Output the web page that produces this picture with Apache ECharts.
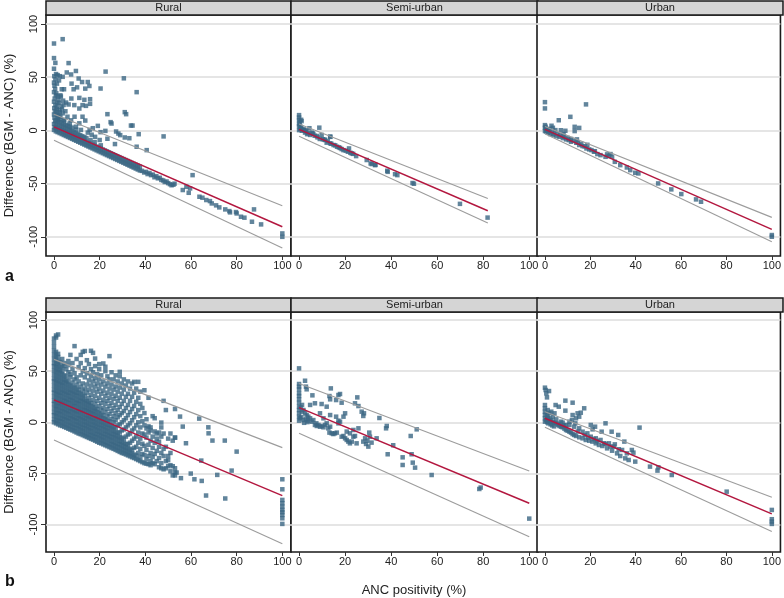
<!DOCTYPE html>
<html><head><meta charset="utf-8">
<script src="https://cdn.jsdelivr.net/npm/echarts@6/dist/echarts.min.js"></script>
<style>html,body{margin:0;padding:0;background:#fff}#c{width:784px;height:598px}</style>
</head><body><div id="c"></div><script>
const panelTitles = ['Rural', 'Semi-urban', 'Urban'];
const xTicks = [0, 20, 40, 60, 80, 100];
const yTicks = [-100, -50, 0, 50, 100];
const yTitle = 'Difference (BGM - ANC) (%)';
const xTitle = 'ANC positivity (%)';

// ---------- fitted lines (fit, upper and lower prediction limits) ----------
const fitRuralA = [[0, 3.4], [100, -90.5]];
const upRuralA = [[0, 15.3], [100, -70.8]];
const loRuralA = [[0, -9.1], [100, -110.5]];
const fitSemiA = [[0, 1], [82, -75.5]];
const upSemiA = [[0, 6], [82, -64]];
const loSemiA = [[0, -5.4], [82, -87]];
const fitUrbanA = [[0, 1], [100, -93]];
const upUrbanA = [[0, 3.8], [100, -81.7]];
const loUrbanA = [[0, -3], [100, -104.6]];
const fitRuralB = [[0, 21.9], [100, -71.8]];
const upRuralB = [[0, 61.6], [100, -24.8]];
const loRuralB = [[0, -17.3], [100, -119]];
const fitSemiB = [[0, 14.4], [100, -79.3]];
const upSemiB = [[0, 38], [100, -47.6]];
const loSemiB = [[0, -10.8], [100, -112]];
const fitUrbanB = [[0, 3.9], [100, -89.7]];
const upUrbanB = [[0, 10.4], [100, -73.4]];
const loUrbanB = [[0, -4.9], [100, -107]];

// ---------- points ----------
const ruralA = [
[0,0.5],[0.3,3],[0,6],[0.5,9],[0.2,12],[0,15],[0.4,18],[0.1,21],[0.6,24],[0,27],[0.3,30],[0.8,33],[0,36],[0.5,39],[0.2,42],[0,45],[0.6,48],[0.1,51],[0.9,53],[0,58],[0.6,63.5],[0,68],[0,81.7],
[1.2,22],[1.5,26],[2,29],[1.8,10],[2.8,13],[3.5,20],[4.2,24],[1,35],[1.3,44],[2.2,47],[1.6,15],[2.4,19],[3.2,22.5],[5,18],[4,28],[2.8,33],
[3.8,85.8],[6.4,63.3],[9.6,55.9],[22.6,55.3],[30.6,49],[3.8,50.4],[5.6,54.5],[7.5,52.6],[1.6,52],[2.5,51],[10.8,48.8],[7.7,44],[12.3,45.5],[14.8,45.5],[15.5,41.8],[13.7,39.3],[10.1,40.5],[3.4,38.7],[4.4,38.7],[8.6,38.7],[20.4,39.4],[36.2,36],
[1.6,31.9],[3,31.9],[5.3,26.2],[7.6,30],[11.1,30.6],[13.3,28.8],[15.8,29.4],[15.8,25],[8.9,23.8],[6.4,24.4],[11.1,20.6],[12.5,23.8],[14,23.1],[2.2,26],[1.2,20],[2.5,17],
[23.4,15.3],[31,17.2],[31.6,15.3],[24.8,7.8],[25.2,6.5],[33.7,4.6],[34.4,4.6],[27.2,-1],[28.2,-2.9],[31,-6.6],[33,-7.3],[29,-4.4],[37.1,-3.5],[48,-5.6],[22.5,-0.4],[20.4,-1.6],[23.4,-7.8],
[9,12.9],[6.9,6.7],[9.6,3.5],[11.1,6.7],[11.8,0.5],[14.8,-2],[15.6,0.5],[17,2.1],[19.2,4.3],[13.7,9.3],[5.9,12.9],[3.8,16.1],[12.5,12.9],[36.2,-15.3],[40.6,-18.5],[26.7,-12.8],[18,-6],[16.5,-4],[20,-9],[2,14],[4.5,10],[7.5,9.5],[1,17],
[0.8,-0.8],[0.8,2.7],[0.8,6.2],[0.8,9.7],
[1.6,-1.6],[1.6,1.9],[1.6,5.4],[1.6,8.9],[1.6,12],
[2.5,-2.5],[2.5,1],[2.5,4.5],[2.5,8],[2.5,11],
[3.4,-3.4],[3.4,0.1],[3.4,3.6],[3.4,7.1],
[4.3,-4.3],[4.3,-0.8],[4.3,2.7],[4.3,6.2],[4.3,9.5],
[5.2,-5.2],[5.2,-1.7],[5.2,1.8],[5.2,5.3],
[6.1,-6.1],[6.1,-2.6],[6.1,0.9],[6.1,4.4],
[7,-7],[7,-3.5],[7,0],[7,3.5],
[7.9,-7.9],[7.9,-4.4],[7.9,-0.9],[7.9,2.6],
[8.8,-8.8],[8.8,-5.3],[8.8,-1.8],
[9.7,-9.7],[9.7,-6.2],[9.7,-2.7],[9.7,0.8],
[10.6,-10.6],[10.6,-7.1],[10.6,-3.6],
[11.5,-11.5],[11.5,-8],[11.5,-4.5],
[12.4,-12.4],[12.4,-8.9],[12.4,-5.4],
[13.3,-13.3],[13.3,-9.8],[13.3,-6.3],
[14.2,-14.2],[14.2,-10.7],[14.2,-7.2],
[15.1,-15.1],[15.1,-11.6],
[16,-16],[16,-12.5],[16,-9],
[16.9,-16.9],[16.9,-13.4],
[17.8,-17.8],[17.8,-14.3],[17.8,-11],
[18.7,-18.7],[18.7,-15.2],
[19.6,-19.6],[19.6,-16.1],
[20.5,-20.5],[20.5,-17],[20.5,-14],
[21.4,-21.4],[21.4,-17.9],
[22.3,-22.3],[22.3,-18.8],
[23.2,-23.2],[23.2,-19.7],
[24.1,-24.1],[24.1,-20.6],
[25,-25],[25,-21.5],
[25.9,-25.9],[25.9,-22.4],
[26.8,-26.8],[26.8,-23.3],
[27.7,-27.7],[27.7,-24.2],
[28.6,-28.6],[28.6,-25.1],
[29.5,-29.5],[29.5,-26],
[30.4,-30.4],[30.4,-26.9],
[31.3,-31.3],[31.3,-27.8],
[32.2,-32.2],[32.2,-28.7],
[33.1,-33.1],[33.1,-29.6],
[34,-34],[34,-30.5],
[34.9,-34.9],[34.9,-31.4],
[35.8,-35.8],[35.8,-32.3],
[36.7,-36.7],[36.7,-33.2],
[37.6,-37.6],[37.6,-34],
[38.5,-38],[39.5,-39.5],[40.3,-38.9],[41,-41],[41.8,-40],[42.5,-42],[43.3,-41.5],[44,-44],[44.8,-43],[45.5,-45],[46.3,-44.5],[47,-46.5],[47.8,-47],[48.5,-48.5],[49.3,-48],[50,-49.5],[50.8,-50.5],[51.5,-51.5],[52.3,-51],[52.8,-50],
[56.4,-56],[58,-53],[59,-58.6],[59.6,-54.5],[60.7,-42],[63.7,-62.3],[65,-63.2],[66.7,-65.4],[68.3,-66.4],[69.1,-68.6],[71,-70.4],[72.4,-72.3],[75,-74.2],[76.8,-75.8],[77.1,-77],[79.7,-76.7],[80,-78],[81.9,-81.1],[83.4,-82],[86.7,-85.8],[87.6,-74.2],[90.7,-88.3],[100,-96.8],[100,-100]
];

const semiA = [
[0,14.4],[0,12.2],[0,9.7],[0.3,7.9],[1.1,8.8],[0,6],[0.6,3.5],[0,0.3],[1.2,-0.3],[2,1],[2.6,-2],[4,-2.6],[4.5,2.1],[4.8,-4.2],[6.2,-3.3],[8.8,2.6],[7.7,-5.2],[9.8,-4.2],[10.3,-8.3],[11.3,-9],[12,-11.5],[13.5,-5.8],[13.5,-12.1],[15,-13.7],[16.5,-15.3],[17.3,-15.9],[19.3,-18.5],[21.2,-20],[21.7,-16.9],[22.9,-21.6],[24.8,-24.1],[29.4,-27.8],[31.1,-31],[31.6,-31.6],[33.2,-32.3],[38.3,-37.9],[38.5,-38.9],[41.7,-41.1],[42.7,-42],[49.3,-49.4],[49.9,-50.1],[69.9,-69],[81.9,-81.9],
[0,4],[0.5,1.5],[1,2.5],[1.5,0.5],[2.8,0],[3.2,-1],[5.5,-2],[3.5,-3.5],[6.8,-5],[8,-6.5],[9,-8],[12.5,-10],[14,-12.5],[15.7,-14],[17.8,-16.5],[18.5,-17.5],[20.3,-19],[23.5,-22],[0.9,10],[2.3,0.3],[5.9,-2.8],[11,-8.5],[13.6,-6],[22.3,-21],[33,-32.6]
];

const urbanA = [
[0,26.6],[0,20.7],[18.1,24.5],[6.1,9.6],[11.2,12.8],[13.1,3.4],[15.1,2.4],[13.1,-0.6],[9,-0.3],[2.9,4.4],[0,2.5],[0.6,0.3],[4.6,0.3],[1.3,-2.2],[2.3,-3.4],[3.5,-4.1],[5,-5.3],[6.4,-5.9],[7.9,-7.2],[9.3,-8.4],[10.5,-9.1],[11.5,-10.6],[13.8,-11.6],[14.1,-8.4],[15.1,-13.7],[16.6,-14.7],[18.7,-13.5],[18.3,-16.9],[19.5,-17.8],[21.6,-20],[23.1,-22.2],[24.5,-23.2],[26.7,-24.8],[27.4,-22.5],[28.2,-24.1],[28.9,-22.2],[29.6,-24.8],[30.8,-29.5],[33.2,-32.6],[36.1,-34.8],[37.6,-37.3],[39.8,-39.8],[41.2,-40.4],[49.9,-49.8],[55.7,-55.4],[60.1,-59.8],[66.6,-64.8],[68.8,-67],[100,-98.3],[100,-99.9],
[0,-0.5],[0.5,-1],[1.8,-0.5],[3,-1.5],[4,-3],[5.5,-3.5],[6.8,-4.5],[8.5,-6],[10,-7],[11.5,-8],[12.5,-9.5],[14.5,-11.5],[16,-12.5],[17.5,-15],[20.5,-18.5],[22,-19.5],[2,1.5],[3.5,2.5],[7,0.2],[8.2,-3.5],[0,5],[0.3,3.5],[1,1]
];

// Rural (b): dense cloud written column by column: [x, y1, y2, ...]
const ruralBCols = [
[0,0,3,7,10,14,18,21,25,29,32,36,40,43,47,51,55,58,62,66,70,74,78,82],
[0.9,-1,2,6,9,13,16,20,24,28,31,35,39,42,46,50,54,57,61,65,69,83,85],
[1.8,-2,1.5,5,9,12,16,19,23,27,30,34,38,41,45,49,52,56,60,64,67,86],
[2.7,-3,1,4,8,11,15,19,22,26,29,33,37,40,44,48,51,55,59],
[3.6,-3.6,0,3.5,7,11,14,18,21,25,29,32,36,39,43,47,50,54,62],
[4.5,-4.5,-1,3,6,10,13,17,21,24,28,31,35,39,42,46,55,58],
[5.4,-5.4,-2,2,5,9,12,16,20,23,27,30,34,38,41,45,52],
[6.3,-6.3,-3,1,4,8,11,15,19,22,26,29,33,37,40,49,56,60],
[7.2,-7.2,-3.5,0,4,7,11,14,18,22,25,29,32,36,44,47,66],
[8.1,-8,-4.5,-1,3,6,10,13,17,21,24,28,31,35,39,52,58],
[9,-9,-5.5,-2,2,5,9,12,16,19,23,27,30,34,42,48,74.6],
[9.9,-10,-6,-2.5,1,4,8,11,15,19,22,26,29,33,37,44,62],
[10.8,-11,-7,-3.5,0,4,7,11,14,18,21,25,29,32,40,54],
[11.7,-11.7,-8,-4.5,-1,3,6,10,13,17,21,24,28,35,46,58,66],
[12.6,-12.6,-9,-5.5,-2,2,5,9,12,16,20,23,27,31,38,50,69],
[13.5,-13.5,-10,-6,-2.5,1,4,8,12,15,19,22,26,33,44,53,69.8],
[14.4,-14.4,-11,-7,-3.5,0,4,7,11,14,18,21,29,37,48,60.8],
[15.3,-15.3,-12,-8,-4.5,-1,3,6,10,13,17,20,24,32,41,57],
[16.2,-16.2,-12.5,-9,-5.5,-2,2,5,9,12,16,19,27,36,45,52,70],
[17.1,-17,-13.5,-10,-6,-2.5,1,4,8,11,15,22,31,40,49,68],
[18,-18,-14.5,-11,-7,-3.5,0,4,7,11,14,18,26,35,43,55,62.4],
[18.9,-19,-15,-11.5,-8,-4.5,-1,3,6,10,13,21,30,38,47],
[19.8,-20,-16,-12.5,-9,-5.5,-2,2,5,9,16,24,33,42,52,57],
[20.7,-20.7,-17,-13.5,-10,-6,-2.5,1,4,8,12,19,28,37,46],
[21.6,-21.6,-18,-14.5,-11,-7,-3.5,0,4,7,14,22,31,40,57.6],
[22.5,-22.5,-19,-15,-11.5,-8,-4.5,-1,3,10,18,26,35,50,54.4],
[23.4,-23.4,-20,-16,-12.5,-9,-5.5,-2,2,6,13,21,29,38,45],
[24.3,-24.3,-21,-17,-13.5,-10,-6,-2.5,1,8,16,24,33,42,64.8],
[25.2,-25.2,-21.5,-18,-14.5,-11,-7,-3.5,3,11,19,28,37,49],
[26.1,-26,-22.5,-19,-15,-11.5,-8,-4.5,0,6,14,23,32,42],
[27,-27,-23.5,-20,-16,-12.5,-9,-5,2,9,17,26,35,46],
[27.9,-28,-24.5,-21,-17,-13.5,-10,-3,5,12,21,30,40],
[28.8,-29,-25,-21.5,-18,-14.5,-10,-2,7,15,24,34,45,49.4],
[29.7,-30,-26,-22.5,-19,-15,-8,0,9,18,28,38],
[30.6,-30.6,-27,-23.5,-20,-16,-7,2,11,21,32,42],
[31.5,-31.5,-28,-24.5,-21,-14,-5,4,14,25,36],
[32.4,-32.4,-29,-25,-21.5,-12,-3,7,17,28,40],
[33.3,-33.3,-30,-26,-20,-11,-1,10,21,33],
[34.2,-34.2,-30.5,-27,-18,-8,2,13,25,38],
[35.1,-35,-31.5,-25,-16,-6,5,16,29,39.6],
[36,-36,-32.5,-24,-14,-3,8,20,33],
[36.9,-37,-30,-20,-10,0,12,24,39.6],
[37.8,-38,-34,-26,-16,-5,6,18,30],
[38.7,-39,-31,-21,-11,1,14],
[39.6,-40,-32,-23,-12,-3,9,31.4],
[40.5,-40.5,-36,-27,-15,-6,3],
[41.4,-41,-33,-22,-10,-4,24],
[42.3,-42,-38,-30,-18,-8,-5],
[43.2,-40,-34,-25,-14,6],
[44.1,-41,-31,-20,-9,4],
[45,-38,-28,-16,-11],
[46,-44,-35,-24,-19,-10],
[47,-45,-40,-30,-14,-5,-0.3],
[48,-46,-33,-26,-11,21],
[49,-45,-38,-24,12],
[50,-37,-43,-33,-16],
[51,-42,-48,-11,-30],
[52,-52,-43,-18],
[53,-49,-15,13,-52,-45]
];
const ruralBTail = [
[55.2,5.6],[56.4,-4.2],[63.6,3.6],[67.6,-4.9],[67.7,-10.8],[69.4,-17.9],[74.8,-17.9],[80,-28.7],[77.8,-47.3],[71.5,-51.5],[66.6,-71.7],[75,-74.6],[59.9,-50.2],[61.5,-55.8],[64.7,-57.4],[64.5,-37.5],[53.7,-49.2],[55.6,-54.7],[57.8,-20.5],[53,-15],
[100,-55.8],[100,-65.6],[100,-76],[100,-79.3],[100,-82.5],[100,-85.8],[100,-88],[100,-90.7],[100,-94],[100,-99.5]
];

const semiB = [
[0,52.8],[0,37.5],[0,34.9],[0,32.3],[0,28.4],[0,25.7],[0,22.5],[0,19.2],[0,15.3],[0,12],[0,8.8],[0,5.5],[0,1.6],[2.6,40.7],[3,34.9],[3.3,32.3],[5.8,26.4],[4.8,17],[1.3,17],[0.7,14.6],[1.9,12],[1.2,10.4],[2.6,8.8],[3.3,7.1],[4,5.5],[4.8,3.9],[0.4,3.9],[1.9,2.2],[3,2.9],[4,1.6],[5.5,0.6],[6.2,2.2],[6.9,-2.6],[7.7,-3.6],[8.4,-2.6],[9.1,-4.3],[9.8,-3.6],[10.6,-4.9],[11.3,-2.6],[12,-1],[12.7,-5.9],[13.5,-4.3],[13.2,-10.1],[14.2,-10.8],[14.9,-11.5],[15.6,-10.8],[16.4,-10.1],[17.1,-1],[17.8,0.6],[18.5,-14.1],[19.3,-13.4],[20,-15.7],[20.7,-17.3],[21.4,-18.9],[22.1,-20.6],[22.9,-18.9],[23.6,-14.1],[24.3,-13.4],[25,-20.6],[25.8,-5.9],[28.7,-15.7],[29.1,-21.2],[29.7,-18],[30.1,-23.8],[30.5,-10.1],[31.5,-19.9],[33.7,-15.7],[34.9,4.2],[37.8,-5.9],[38.1,-3.6],[40.9,-22.5],[38.5,-31.3],[45,-34.3],[45,-41.8],[48.5,-13.4],[48.9,-31.3],[49.4,-39.5],[50.4,-44.4],[51.1,-6.9],[57.6,-51.6],[78.3,-65.3],[78.9,-63.9],[100,-94.3],
[6.9,18.6],[9.1,8.8],[9.8,17.9],[12,15.3],[13.2,25.7],[13.5,22.5],[13.8,33.2],[16.1,21.8],[17.1,26.7],[18.5,19.2],[17.8,27.7],[20,8.8],[24.3,18.6],[25.3,24.4],[25.8,15.9],[27.2,10.4],[27.9,6.2],[28.2,8.8],[13.5,7.1],[16.1,5.5],[17.1,1.6],[19.3,5.5],[10.6,3.9],[20.7,-9.1],[22.1,-10.8],[23.6,-7.5],[27.9,-18.9],[30.8,-14.1],[2.2,-0.5],[3.6,0.2],[1,5],[7.5,-1]
];

const urbanB = [
[0,33.9],[0.3,31.6],[1.8,30.6],[0.6,28.3],[0.9,24.4],[9,21.2],[12.2,19.2],[6.1,15.3],[9,11.4],[4.7,16.9],[14.4,8.8],[15.8,9.4],[15.1,5.5],[17.3,13.7],[26.7,-1],[41.7,-5.2],[20.2,-2.6],[22.1,-4.3],[21,-6.9],[25,-9.2],[29.4,-9.2],[32.3,-12.4],[35,-18.9],[28.9,-23.8],[30.8,-21.6],[38.3,-27.1],[39,-29.7],[39.8,-38.5],[46.3,-43.4],[50,-44.1],[49.6,-47.3],[55.9,-51.6],[80.1,-67.9],[100,-85.8],[100,-94.9],[100,-97.2],[100,-99.5],
[0,16.9],[0,13.7],[0,10.4],[0,7.1],[0,3.9],[0,0.6],
[1.3,5.5],[2,3.9],[2.8,2.2],[3.5,0.6],[4.2,-0.4],[5,-1],[5.7,-2.6],[6.4,-3.6],[7.1,-4.3],[7.8,-4.9],[8.6,-6.2],[9.3,-7.5],[10,-8.2],[10.8,-9.2],[11.5,-10.1],[12.2,-11.5],[12.9,-12.4],[13.7,-13.4],[15.1,-14.7],[16.6,-15.7],[18,-17.3],[19.5,-18],[20.9,-18.9],[22.4,-20.6],[23.8,-22.2],[25.3,-23.2],[27.4,-25.5],[29.6,-27.8],[31.8,-30.4],[33.2,-33],[35.4,-35.3],[36.9,-36.9],
[2,9.1],[3.5,5.5],[5,2.9],[7.1,0.6],[9.3,-2.6],[10.8,0.6],[11.9,2.2],[13.4,-1],[15.1,-5.9],[16.6,-9.2],[18.7,-10.8],[20.2,-14.1],[22.4,-15.7],[24.5,-17.3],[26.7,-21.2],[28.2,-20.6],[30.3,-23.8],[32.5,-26.4],[34,-27.1],[36.1,-30.4],[12.2,7.1],[13.7,3.9],[10.8,-2.6],[12.9,-4.3],[7.8,-0.4],[4.2,8.8],[2.8,10.4],
[0.5,2],[1,0],[1.5,-1],[0.8,8],[1.2,12],[2.5,-2],[3.2,-3],[4,-4],[1,4],[2,1],[6,-1.5],[8.5,-3],[14.5,-9],[17.5,-12.5],[19,-15],[21.5,-16.5],[23,-18.5],[26,-20.5]
];

// ---------- build ----------
const ruralB = [];
ruralBCols.forEach(col => { for (let k = 1; k < col.length; k++) ruralB.push([col[0], col[k]]); });
ruralBTail.forEach(p => ruralB.push(p));

const PT = '#3b6683', RED = '#b3173f', GREY = '#9c9c9c', FONT = '"Liberation Sans", Arial, sans-serif';
const lefts = [46, 291, 537], widths = [245, 247, 246];
const rows = [
  {top: 15, height: 241, ymin: -118, ymax: 108.5,
   pts: [ruralA, semiA, urbanA], fit: [fitRuralA, fitSemiA, fitUrbanA], up: [upRuralA, upSemiA, upUrbanA], lo: [loRuralA, loSemiA, loUrbanA]},
  {top: 312, height: 240, ymin: -127, ymax: 108,
   pts: [ruralB, semiB, urbanB], fit: [fitRuralB, fitSemiB, fitUrbanB], up: [upRuralB, upSemiB, upUrbanB], lo: [loRuralB, loSemiB, loUrbanB]}
];

const grid = [], xAxis = [], yAxis = [], series = [], graphic = [];
let gi = 0;
rows.forEach((r, ri) => {
  for (let c = 0; c < 3; c++) {
    grid.push({left: lefts[c], top: r.top, width: widths[c], height: r.height, show: true,
      backgroundColor: '#fff', borderColor: '#1a1a1a', borderWidth: 1.6});
    xAxis.push({type: 'value', gridIndex: gi, min: -3.5, max: 103.8, position: 'bottom',
      axisLine: {show: false, onZero: false}, splitLine: {show: false},
      axisTick: {show: true, length: 4, customValues: xTicks, lineStyle: {color: '#333', width: 1}},
      axisLabel: {customValues: xTicks, fontSize: 11, color: '#222', margin: 4, fontFamily: FONT}});
    yAxis.push({type: 'value', gridIndex: gi, min: r.ymin, max: r.ymax, position: 'left',
      axisLine: {show: false, onZero: false},
      splitLine: {show: true, customValues: yTicks, lineStyle: {color: '#dcdcdc', width: 1.5}},
      axisTick: {show: c === 0, length: 5, customValues: yTicks, lineStyle: {color: '#333', width: 1}},
      axisLabel: {show: c === 0, customValues: yTicks, rotate: 90, fontSize: 11, color: '#222', margin: 7, fontFamily: FONT},
      name: c === 0 ? yTitle : '', nameLocation: 'middle', nameGap: 30,
      nameTextStyle: {fontSize: 13, color: '#222', fontFamily: FONT}});
    series.push({type: 'scatter', xAxisIndex: gi, yAxisIndex: gi, data: r.pts[c], symbol: 'rect', symbolSize: 4.5,
      itemStyle: {color: PT}, z: 3, silent: true});
    [r.up[c], r.lo[c]].forEach(d => series.push({type: 'line', xAxisIndex: gi, yAxisIndex: gi, data: d,
      symbol: 'none', lineStyle: {color: GREY, width: 1.1}, z: 4, silent: true}));
    series.push({type: 'line', xAxisIndex: gi, yAxisIndex: gi, data: r.fit[c], symbol: 'none',
      lineStyle: {color: RED, width: 1.5}, z: 5, silent: true});
    graphic.push({type: 'rect', shape: {x: lefts[c], y: r.top - 14, width: widths[c], height: 14},
      style: {fill: '#d5d5d5', stroke: '#1a1a1a', lineWidth: 1.5}, z: 10});
    graphic.push({type: 'text', x: lefts[c] + widths[c] / 2, y: r.top - 7, z: 11,
      style: {text: panelTitles[c], align: 'center', verticalAlign: 'middle', fontSize: 11, fill: '#222', fontFamily: FONT}});
    gi++;
  }
});
graphic.push({type: 'text', x: 5, y: 277, style: {text: 'a', fontSize: 16, fontWeight: 'bold', fill: '#111', verticalAlign: 'middle', fontFamily: FONT}});
graphic.push({type: 'text', x: 5, y: 582, style: {text: 'b', fontSize: 16, fontWeight: 'bold', fill: '#111', verticalAlign: 'middle', fontFamily: FONT}});
graphic.push({type: 'text', x: 414, y: 590, style: {text: xTitle, align: 'center', verticalAlign: 'middle', fontSize: 13, fill: '#222', fontFamily: FONT}});

const chart = echarts.init(document.getElementById('c'), null, {renderer: 'canvas'});
chart.setOption({animation: false, backgroundColor: '#fff', grid, xAxis, yAxis, series, graphic});
</script></body></html>
